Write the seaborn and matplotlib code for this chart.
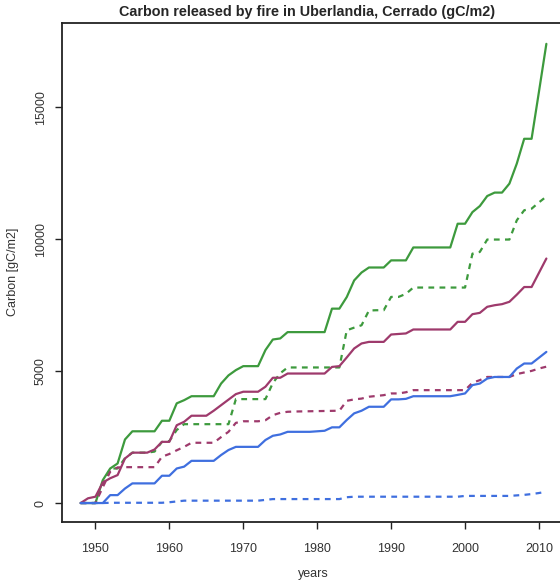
import matplotlib
matplotlib.use("Agg")
import matplotlib.pyplot as plt
import seaborn as sns
import pandas as pd

years = list(range(1948, 2012))

green_solid = [0, 0, 0, 870, 1310, 1500, 2410, 2720, 2720, 2720,
               2720, 3120, 3120, 3780, 3900, 4050, 4050, 4050, 4050, 4530,
               4840, 5040, 5190, 5190, 5190, 5800, 6200, 6240, 6480, 6480,
               6480, 6480, 6480, 6480, 7370, 7370, 7810, 8440, 8740, 8930,
               8930, 8930, 9200, 9200, 9200, 9690, 9690, 9690, 9690, 9690,
               9690, 10590, 10590, 11030, 11260, 11640, 11770, 11770, 12110, 12870,
               13810, 13810, 15600, 17410]

green_dashed = [0, 0, 0, 700, 1310, 1310, 1700, 1910, 1910, 1910,
                1950, 2320, 2350, 2770, 2990, 2990, 2990, 2990, 2990, 2990,
                2990, 3940, 3940, 3940, 3940, 3940, 4550, 4920, 5140, 5140,
                5140, 5140, 5140, 5140, 5140, 5140, 6550, 6650, 6740, 7300,
                7310, 7310, 7815, 7815, 7930, 8170, 8170, 8170, 8170, 8170,
                8170, 8170, 8170, 9455, 9520, 9990, 9990, 9990, 9990, 10720,
                11100, 11160, 11400, 11620]

purple_solid = [0, 180, 240, 780, 940, 1060, 1690, 1910, 1910, 1910,
                2030, 2320, 2320, 2950, 3080, 3310, 3310, 3310, 3500, 3710,
                3920, 4130, 4220, 4220, 4220, 4410, 4750, 4750, 4910, 4910,
                4910, 4910, 4910, 4910, 5160, 5190, 5520, 5860, 6050, 6110,
                6110, 6110, 6390, 6410, 6430, 6580, 6580, 6580, 6580, 6580,
                6580, 6870, 6870, 7160, 7210, 7440, 7500, 7540, 7630, 7900,
                8190, 8190, 8730, 9270]

purple_dashed = [0, 0, 0, 600, 1190, 1350, 1360, 1360, 1360, 1360,
                 1360, 1755, 1860, 2000, 2130, 2285, 2285, 2285, 2285, 2500,
                 2700, 3040, 3100, 3100, 3100, 3140, 3330, 3420, 3460, 3470,
                 3475, 3480, 3485, 3490, 3495, 3500, 3875, 3930, 3960, 4030,
                 4060, 4090, 4155, 4155, 4200, 4280, 4280, 4280, 4280, 4280,
                 4280, 4280, 4280, 4560, 4660, 4780, 4780, 4780, 4780, 4890,
                 4950, 5010, 5100, 5170]

blue_solid = [0, 0, 0, 0, 300, 300, 550, 745, 745, 745,
              745, 1035, 1035, 1310, 1380, 1600, 1600, 1600, 1600, 1820,
              2010, 2130, 2130, 2130, 2130, 2390, 2550, 2600, 2700, 2700,
              2700, 2700, 2720, 2740, 2870, 2870, 3150, 3400, 3500, 3650,
              3650, 3650, 3930, 3930, 3950, 4050, 4050, 4050, 4050, 4050,
              4050, 4100, 4155, 4470, 4530, 4720, 4780, 4780, 4780, 5100,
              5290, 5290, 5510, 5730]

blue_dashed = [0, 0, 0, 0, 10, 10, 10, 10, 10, 10,
               10, 10, 30, 60, 90, 90, 90, 90, 90, 90,
               90, 90, 90, 90, 90, 120, 150, 150, 150, 150,
               150, 150, 150, 150, 150, 150, 220, 240, 240, 240,
               240, 240, 240, 240, 240, 240, 240, 240, 240, 240,
               240, 240, 270, 270, 270, 270, 270, 270, 270, 290,
               310, 340, 380, 430]

series = [
    ("green", "solid", green_solid),
    ("green", "dashed", green_dashed),
    ("purple", "solid", purple_solid),
    ("purple", "dashed", purple_dashed),
    ("blue", "solid", blue_solid),
    ("blue", "dashed", blue_dashed),
]

rows = []
for col, kind, vals in series:
    for y, v in zip(years, vals):
        rows.append({"year": y, "carbon": v, "group": col, "kind": kind,
                     "sid": col + kind})
df = pd.DataFrame(rows)

sns.set_style("white")
plt.rcParams["font.family"] = ["Liberation Sans", "DejaVu Sans"]

W, H = 560, 584
fig = plt.figure(figsize=(W / 100, H / 100), dpi=100)
left, right, top, bottom = 62, 565, 23, 521.5
ax = fig.add_axes([left / W, (H - bottom) / H, (right - left) / W, (bottom - top) / H])

palette = {"green": "#3d9a3d", "purple": "#9e3a6c", "blue": "#3f6fdf"}
dashes = {"solid": "", "dashed": (2.6, 2.4)}

sns.lineplot(data=df, x="year", y="carbon", hue="group", style="kind",
             units="sid", estimator=None, palette=palette, dashes=dashes,
             linewidth=1.6, legend=False, ax=ax)

ax.set_xlim(1945.48, 2013.52)
ax.set_ylim(-700, 18200)
ax.set_xticks([1950, 1960, 1970, 1980, 1990, 2000, 2010])
ax.set_yticks([0, 5000, 10000, 15000])
ax.set_yticklabels(["0", "5000", "10000", "15000"], rotation=90, va="center")

for s in ax.spines.values():
    s.set_visible(True)
    s.set_color("#222222")
    s.set_linewidth(1.3)

ax.tick_params(axis="both", direction="out", length=5, width=1.0,
               colors="#222222", labelsize=9, labelcolor="#333333",
               bottom=True, left=True)
ax.tick_params(axis="x", pad=10.5)
ax.tick_params(axis="y", pad=6)

ax.set_xlabel("years", fontsize=9, color="#333333")
ax.set_ylabel("Carbon [gC/m2]", fontsize=9, color="#333333")
ax.xaxis.set_label_coords(0.5, (bottom - 568) / (bottom - top))
ax.yaxis.set_label_coords((19.5 - left) / (right - left), 0.5)

ax.set_title("Carbon released by fire in Uberlandia, Cerrado (gC/m2)",
             fontsize=10.4, fontweight="bold", x=(307.5 - left) / (right - left),
             pad=5)

fig.savefig("out.png", dpi=100)
